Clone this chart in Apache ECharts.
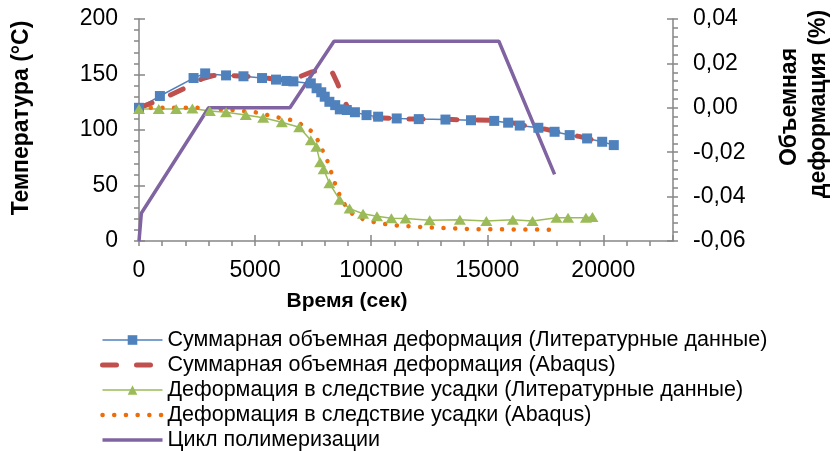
<!DOCTYPE html>
<html>
<head>
<meta charset="utf-8">
<script src="https://cdn.jsdelivr.net/npm/echarts@6/dist/echarts.min.js"></script>
<style>
html,body{margin:0;padding:0;background:#fff;}
#chart{width:835px;height:451px;}
</style>
</head>
<body>
<div id="chart"></div>
<script>
// ---------- data ----------
const seriesNames = [
  'Суммарная объемная деформация (Литературные данные)',
  'Суммарная объемная деформация (Abaqus)',
  'Деформация в следствие усадки (Литературные данные)',
  'Деформация в следствие усадки (Abaqus)',
  'Цикл полимеризации'
];
const xTickLabels = ['0', '5000', '10000', '15000', '20000'];
const leftTickLabels = ['0', '50', '100', '150', '200'];
const rightTickLabels = ['-0,06', '-0,04', '-0,02', '0,00', '0,02', '0,04'];

// total volumetric strain, literature (right axis, %)
const blueX = [0, 900, 2350, 2850, 3750, 4500, 5300, 5900, 6350, 6650, 7400, 7650, 7850, 8000, 8200, 8450, 8650, 8950, 9300, 9800, 10300, 11100, 12050, 13200, 14300, 15300, 15900, 16400, 17200, 17900, 18550, 19300, 19950, 20450];
const blueY = [0.0, 0.0053, 0.0134, 0.0155, 0.0146, 0.0142, 0.0134, 0.0127, 0.0121, 0.0119, 0.0110, 0.0088, 0.0070, 0.0050, 0.0027, 0.0012, -0.0007, -0.0010, -0.0020, -0.0033, -0.0040, -0.0048, -0.0051, -0.0053, -0.0056, -0.0059, -0.0067, -0.0080, -0.0090, -0.0108, -0.0123, -0.0138, -0.0153, -0.0168];

// total volumetric strain, Abaqus
const redX = [0, 1000, 2000, 2700, 3200, 4000, 5000, 5800, 6300, 6800, 7400, 8000, 8300, 8550, 8800, 9000, 9300, 9800, 10500, 11500, 12500, 13500, 14500, 15500, 16000, 16500, 17000, 17500, 18000, 18500, 19000, 19900];
const redY = [0.0, 0.0040, 0.0090, 0.0130, 0.0145, 0.0145, 0.0140, 0.0130, 0.0125, 0.0135, 0.0160, 0.0175, 0.0165, 0.0110, 0.0040, 0.0000, -0.0030, -0.0042, -0.0046, -0.0050, -0.0050, -0.0053, -0.0055, -0.0056, -0.0065, -0.0078, -0.0088, -0.0096, -0.0108, -0.0120, -0.0130, -0.0153];

// shrinkage strain, literature
const greenX = [0, 850, 1600, 2300, 3050, 3750, 4600, 5350, 6150, 6900, 7400, 7640, 7800, 7950, 8200, 8640, 9070, 9650, 10250, 10870, 11480, 12520, 13820, 14960, 16100, 16950, 17980, 18480, 19250, 19530];
const greenY = [-0.0005, -0.0005, -0.0005, -0.0003, -0.0014, -0.0020, -0.0032, -0.0045, -0.0065, -0.0088, -0.0146, -0.0176, -0.0245, -0.0277, -0.0340, -0.0414, -0.0454, -0.0477, -0.0489, -0.0497, -0.0499, -0.0507, -0.0504, -0.0510, -0.0504, -0.0510, -0.0495, -0.0495, -0.0495, -0.0492];

// shrinkage strain, Abaqus
const orangeX = [0, 1000, 2500, 3050, 3600, 4000, 4500, 5000, 5550, 6050, 6550, 7000, 7420, 7700, 7850, 8050, 8140, 8310, 8470, 8640, 8900, 9200, 9700, 10200, 10690, 11200, 11700, 12200, 12750, 13200, 13800, 14250, 14750, 17800];
const orangeY = [0.0, 0.0, 0.0, -0.0006, -0.0007, -0.0010, -0.0015, -0.0020, -0.0033, -0.0045, -0.0055, -0.0075, -0.0105, -0.0146, -0.0183, -0.0216, -0.0248, -0.0300, -0.0349, -0.0393, -0.0443, -0.0479, -0.0504, -0.0517, -0.0525, -0.0531, -0.0534, -0.0537, -0.0540, -0.0542, -0.0544, -0.0546, -0.0547, -0.0549];

// polymerisation cycle, temperature (left axis, °C)
const tempX = [0, 100, 3000, 6500, 8400, 15500, 17900];
const tempY = [0, 25, 120, 120, 180, 180, 60];

// ---------- build ----------
const zip = (xs, ys) => xs.map((x, i) => [x, ys[i]]);
const axisColor = '#868686';
const FONT = 'Liberation Sans, Arial, sans-serif';
const TICK_FS = 23;

const chart = echarts.init(document.getElementById('chart'), null, {renderer: 'canvas'});

const fmtRight = v => {
  const s = v.toFixed(2).replace('.', ',');
  return rightTickLabels.indexOf(s) >= 0 ? s : '';
};
const fmtLeft = v => {
  const s = String(Math.round(v));
  return leftTickLabels.indexOf(s) >= 0 && Math.abs(v - Math.round(v)) < 1e-9 ? s : '';
};
const fmtX = v => {
  const s = String(Math.round(v));
  return xTickLabels.indexOf(s) >= 0 ? s : '';
};
const noSym = {opacity: 0};

const blueLine = {color: '#4F81BD', width: 1.5};
const redLine = {color: '#C0504D', width: 5, type: [14, 20], cap: 'round', join: 'round'};
const greenLine = {color: '#9BBB59', width: 1.5};
const orangeLine = {color: '#EC6D0C', width: 4.5, type: [0.1, 11.6], cap: 'round'};
const purpleLine = {color: '#8064A2', width: 3.5};

const option = {
  animation: false,
  backgroundColor: '#fff',
  textStyle: {fontFamily: FONT},
  grid: {left: 139, right: 162, top: 19, bottom: 210, containLabel: false},
  xAxis: [
    {
      type: 'value', min: 0, max: 23000, interval: 1000, position: 'bottom',
      axisLine: {show: true, onZero: false, lineStyle: {color: axisColor, width: 1.5}},
      axisTick: {show: true, inside: false, length: 5, lineStyle: {color: axisColor, width: 1.5}},
      axisLabel: {formatter: fmtX, fontSize: TICK_FS, color: '#000', margin: 18, fontFamily: FONT, showMaxLabel: false},
      splitLine: {show: false}
    },
    {
      type: 'value', min: 0, max: 23000, interval: 5000, position: 'bottom',
      axisLine: {show: false, onZero: false},
      axisTick: {show: true, inside: true, length: 6, lineStyle: {color: axisColor, width: 1.5}},
      axisLabel: {show: false},
      splitLine: {show: false}
    }
  ],
  yAxis: [
    {
      type: 'value', min: 0, max: 200, interval: 50, position: 'left',
      axisLine: {show: true, onZero: false, lineStyle: {color: axisColor, width: 1.5}},
      axisTick: {show: true, inside: false, length: 5, lineStyle: {color: axisColor, width: 1.5}},
      minorTick: {show: true, splitNumber: 5, length: 5, lineStyle: {color: axisColor, width: 1.5}},
      axisLabel: {formatter: fmtLeft, fontSize: TICK_FS, color: '#000', margin: 21, fontFamily: FONT},
      splitLine: {show: false}
    },
    {
      type: 'value', min: 0, max: 200, interval: 50, position: 'left',
      axisLine: {show: false, onZero: false},
      axisTick: {show: true, inside: true, length: 6, lineStyle: {color: axisColor, width: 1.5}},
      axisLabel: {show: false},
      splitLine: {show: false}
    },
    {
      type: 'value', min: -0.06, max: 0.04, interval: 0.02, position: 'right',
      axisLine: {show: true, onZero: false, lineStyle: {color: axisColor, width: 1.5}},
      axisTick: {show: true, inside: false, length: 5, lineStyle: {color: axisColor, width: 1.5}},
      minorTick: {show: true, splitNumber: 5, length: 5, lineStyle: {color: axisColor, width: 1.5}},
      axisLabel: {formatter: fmtRight, fontSize: TICK_FS, color: '#000', margin: 20, fontFamily: FONT},
      splitLine: {show: false}
    },
    {
      type: 'value', min: -0.06, max: 0.04, interval: 0.02, position: 'right',
      axisLine: {show: false, onZero: false},
      axisTick: {show: true, inside: true, length: 6, lineStyle: {color: axisColor, width: 1.5}},
      axisLabel: {show: false},
      splitLine: {show: false}
    }
  ],
  legend: {
    orient: 'vertical', left: 100, top: 329, height: 122, padding: 0,
    itemWidth: 60, itemHeight: 12, itemGap: 3,
    textStyle: {fontSize: 21.5, color: '#000', fontFamily: FONT},
    data: [
      {name: seriesNames[0], lineStyle: blueLine},
      {name: seriesNames[1], itemStyle: noSym, lineStyle: redLine},
      {name: seriesNames[2], lineStyle: greenLine},
      {name: seriesNames[3], itemStyle: noSym, lineStyle: orangeLine},
      {name: seriesNames[4], itemStyle: noSym, lineStyle: purpleLine}
    ]
  },
  graphic: [
    {type: 'text', x: 347, y: 301, style: {text: 'Время (сек)', font: 'bold 21px ' + FONT, fill: '#000', align: 'center', verticalAlign: 'middle'}},
    {type: 'text', x: 22, y: 118, rotation: Math.PI / 2, style: {text: 'Температура (°С)', font: 'bold 23px ' + FONT, fill: '#000', align: 'center', verticalAlign: 'middle'}},
    {type: 'text', x: 790, y: 107, rotation: Math.PI / 2, style: {text: 'Объемная', font: 'bold 23px ' + FONT, fill: '#000', align: 'center', verticalAlign: 'middle'}},
    {type: 'text', x: 819, y: 104, rotation: Math.PI / 2, style: {text: 'деформация (%)', font: 'bold 23px ' + FONT, fill: '#000', align: 'center', verticalAlign: 'middle'}}
  ],
  series: [
    {
      name: seriesNames[0], type: 'line', xAxisIndex: 0, yAxisIndex: 2,
      data: zip(blueX, blueY), symbol: 'rect', symbolSize: 10,
      itemStyle: {color: '#4F81BD'}, lineStyle: blueLine
    },
    {
      name: seriesNames[1], type: 'line', xAxisIndex: 0, yAxisIndex: 2,
      data: zip(redX, redY), symbol: 'none', showSymbol: false,
      itemStyle: {color: '#C0504D'}, lineStyle: redLine
    },
    {
      name: seriesNames[2], type: 'line', xAxisIndex: 0, yAxisIndex: 2,
      data: zip(greenX, greenY), symbol: 'triangle', symbolSize: [12, 10],
      itemStyle: {color: '#9BBB59'}, lineStyle: greenLine
    },
    {
      name: seriesNames[3], type: 'line', xAxisIndex: 0, yAxisIndex: 2,
      data: zip(orangeX, orangeY), symbol: 'none', showSymbol: false,
      itemStyle: {color: '#EC6D0C'}, lineStyle: orangeLine
    },
    {
      name: seriesNames[4], type: 'line', xAxisIndex: 0, yAxisIndex: 0,
      data: zip(tempX, tempY), symbol: 'none', showSymbol: false,
      itemStyle: {color: '#8064A2'}, lineStyle: purpleLine
    }
  ]
};
chart.setOption(option);
</script>
</body>
</html>
